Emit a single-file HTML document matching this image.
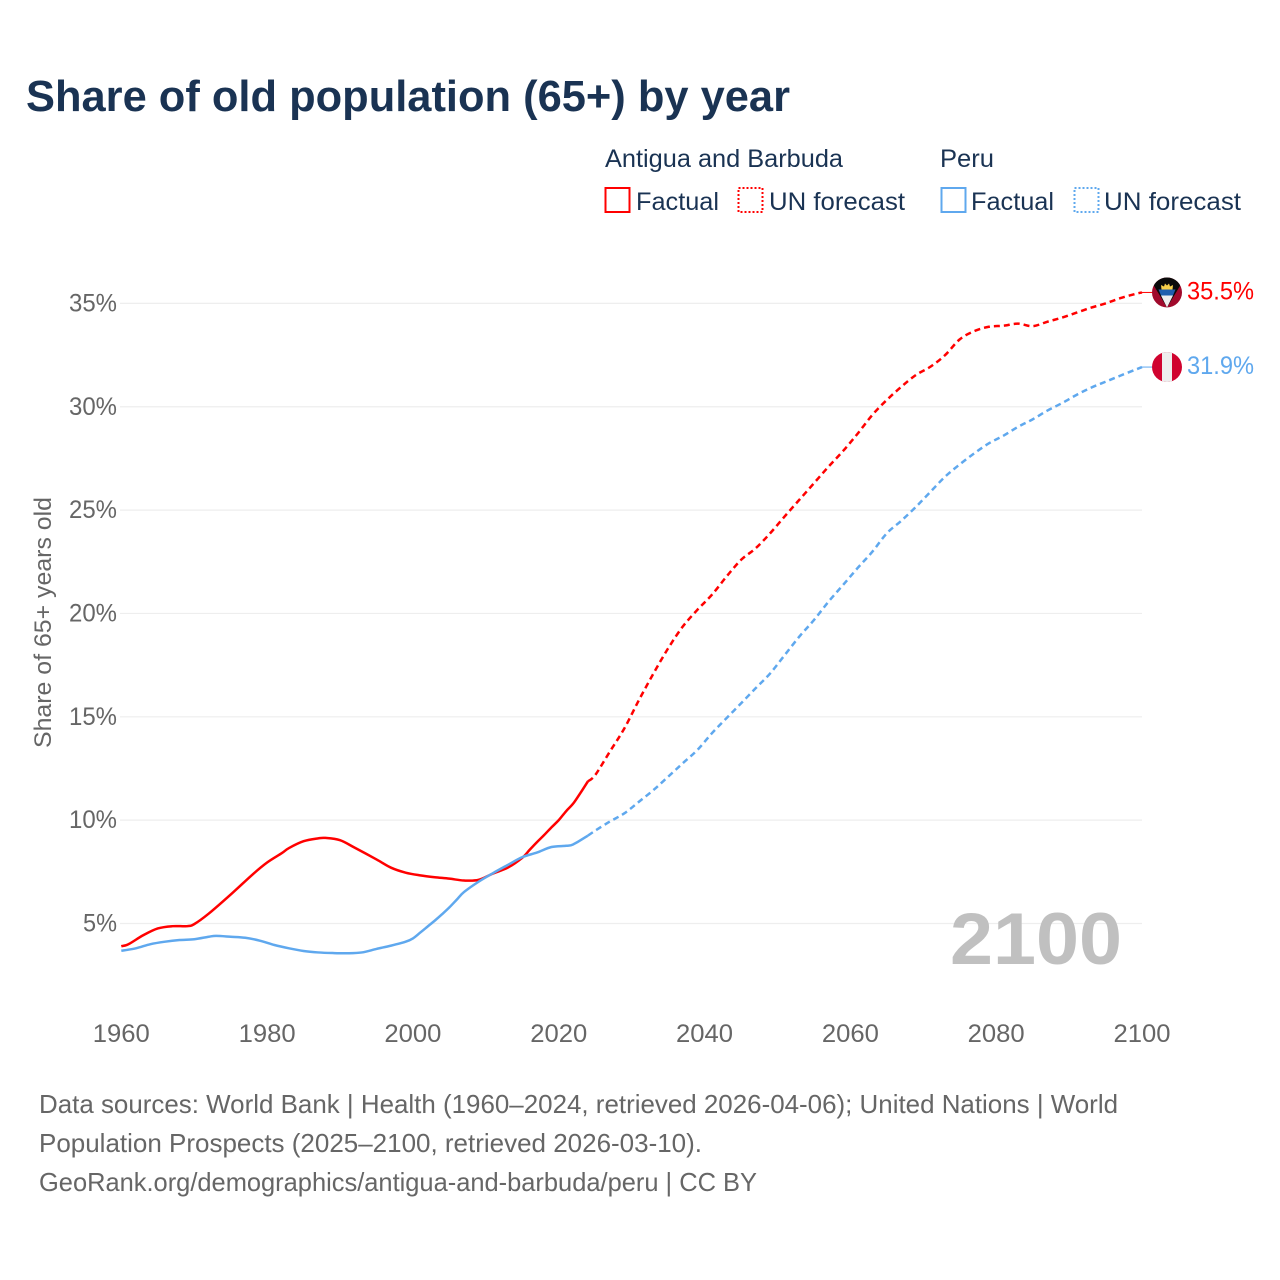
<!DOCTYPE html>
<html lang="en">
<head>
<meta charset="utf-8">
<title>Share of old population (65+) by year</title>
<style>
html,body{margin:0;padding:0;background:#fff;}
svg{display:block;font-family:"Liberation Sans",sans-serif;}
</style>
</head>
<body>
<svg id="chart" xmlns="http://www.w3.org/2000/svg" width="1280" height="1280" viewBox="0 0 1280 1280">
  <defs>
    <clipPath id="flag-clip"><circle cx="0" cy="0" r="15"/></clipPath>
  </defs>
  <rect x="0" y="0" width="1280" height="1280" fill="#ffffff"/>

  <text x="26" y="111" font-size="44" font-weight="700" fill="#1a3353" textLength="764" lengthAdjust="spacingAndGlyphs">Share of old population (65+) by year</text>

  <g>
    <text x="605" y="167" font-size="25" fill="#1a3353" textLength="238" lengthAdjust="spacingAndGlyphs">Antigua and Barbuda</text>
    <text x="940" y="167" font-size="25" fill="#1a3353" textLength="54" lengthAdjust="spacingAndGlyphs">Peru</text>

    <rect x="605.5" y="188" width="24" height="24" fill="none" stroke="#ff0000" stroke-width="2"/>
    <text x="636" y="210" font-size="25" fill="#1a3353" textLength="83" lengthAdjust="spacingAndGlyphs">Factual</text>
    <rect x="738.5" y="188" width="24" height="24" fill="none" stroke="#ff0000" stroke-width="2" stroke-dasharray="2 2"/>
    <text x="769" y="210" font-size="25" fill="#1a3353" textLength="136" lengthAdjust="spacingAndGlyphs">UN forecast</text>

    <rect x="941.5" y="188" width="24" height="24" fill="none" stroke="#5fa8ee" stroke-width="2"/>
    <text x="971" y="210" font-size="25" fill="#1a3353" textLength="83" lengthAdjust="spacingAndGlyphs">Factual</text>
    <rect x="1074.5" y="188" width="24" height="24" fill="none" stroke="#5fa8ee" stroke-width="2" stroke-dasharray="2 2"/>
    <text x="1104" y="210" font-size="25" fill="#1a3353" textLength="137" lengthAdjust="spacingAndGlyphs">UN forecast</text>
  </g>

  <text transform="translate(51,748) rotate(-90)" font-size="24" fill="#666666" textLength="251" lengthAdjust="spacingAndGlyphs">Share of 65+ years old</text>

  <g id="grid"></g>
  <g id="y-ticks"></g>
  <g id="x-ticks"></g>

  <text x="1122" y="964" text-anchor="end" font-size="73" font-weight="700" fill="#c0c0c0" textLength="172" lengthAdjust="spacingAndGlyphs">2100</text>

  <g id="series"></g>

  <g id="flag-antigua">
    <g clip-path="url(#flag-clip)">
      <rect x="-15" y="-15" width="30" height="30" fill="#a00a2c"/>
      <polygon points="-15,-15 15,-15 15,-10 0,15 -15,-10" fill="#0a0a0a"/>
      <polygon points="-8.5,-3 8.5,-3 6,3 -6,3" fill="#1f5fae"/>
      <polygon points="-6,3 6,3 0,15" fill="#eeeeee"/>
      <polygon points="-5.5,-3 -6,-7.5 -3,-6 -2,-9 0,-7 2,-9 3,-6 6,-7.5 5.5,-3" fill="#f6cf4a"/>
    </g>
  </g>
  <g id="flag-peru">
    <g clip-path="url(#flag-clip)">
      <rect x="-15" y="-15" width="30" height="30" fill="#d0032f"/>
      <rect x="-5" y="-15" width="10" height="30" fill="#eeeeee"/>
    </g>
  </g>

  <text id="value-antigua" x="1187" font-size="25" fill="#ff0000" textLength="67" lengthAdjust="spacingAndGlyphs"></text>
  <text id="value-peru" x="1187" font-size="25" fill="#5fa8ee" textLength="67" lengthAdjust="spacingAndGlyphs"></text>

  <g fill="#666666" font-size="26">
    <text x="39" y="1113" textLength="1079" lengthAdjust="spacingAndGlyphs">Data sources: World Bank | Health (1960–2024, retrieved 2026-04-06); United Nations | World</text>
    <text x="39" y="1152" textLength="663" lengthAdjust="spacingAndGlyphs">Population Prospects (2025–2100, retrieved 2026-03-10).</text>
    <text x="39" y="1191" textLength="718" lengthAdjust="spacingAndGlyphs">GeoRank.org/demographics/antigua-and-barbuda/peru | CC BY</text>
  </g>
</svg>
<script>
const yTickValues = [5, 10, 15, 20, 25, 30, 35];
const xTickValues = [1960, 1980, 2000, 2020, 2040, 2060, 2080, 2100];

const antiguaFactualYears = [1960,1961,1963,1965,1967,1969,1970,1972,1975,1978,1980,1982,1983,1985,1987,1988,1990,1992,1995,1997,1999,2001,2003,2005,2007,2009,2011,2013,2015,2016,2017,2018,2019,2020,2021,2022,2023,2024];
const antiguaFactualValues = [3.9,4.0,4.43,4.76,4.87,4.87,4.97,5.48,6.4,7.37,7.95,8.4,8.65,8.98,9.12,9.14,9.03,8.67,8.1,7.7,7.46,7.33,7.24,7.17,7.08,7.11,7.42,7.7,8.18,8.56,8.93,9.28,9.65,10.0,10.43,10.81,11.33,11.88];
const antiguaForecastYears = [2024,2025,2027,2029,2031,2033,2035,2037,2039,2041,2043,2045,2047,2049,2051,2053,2055,2057,2059,2061,2063,2065,2067,2069,2071,2073,2075,2077,2079,2081,2083,2085,2087,2089,2091,2093,2095,2097,2099,2100];
const antiguaForecastValues = [11.88,12.18,13.31,14.44,15.81,17.1,18.31,19.36,20.17,20.9,21.78,22.59,23.15,23.88,24.7,25.5,26.3,27.1,27.86,28.7,29.6,30.33,30.97,31.54,31.94,32.5,33.26,33.66,33.87,33.92,34.02,33.9,34.11,34.31,34.55,34.79,35.0,35.25,35.45,35.53];

const peruFactualYears = [1960,1962,1964,1966,1968,1970,1972,1973,1975,1977,1979,1981,1983,1985,1987,1989,1991,1993,1995,1997,1999,2000,2001,2002,2003,2004,2005,2006,2007,2009,2011,2013,2015,2017,2019,2021,2022,2024];
const peruFactualValues = [3.68,3.8,4.0,4.12,4.2,4.24,4.36,4.4,4.36,4.31,4.17,3.96,3.8,3.67,3.6,3.57,3.56,3.6,3.77,3.93,4.12,4.28,4.56,4.85,5.14,5.45,5.78,6.15,6.52,7.02,7.44,7.83,8.21,8.43,8.7,8.76,8.83,9.25];
const peruForecastYears = [2024,2025,2027,2029,2031,2033,2035,2037,2039,2041,2043,2045,2047,2049,2051,2053,2055,2057,2059,2061,2063,2065,2067,2069,2071,2073,2075,2077,2079,2081,2083,2085,2087,2089,2091,2093,2095,2097,2099,2100];
const peruForecastValues = [9.25,9.49,9.93,10.33,10.89,11.46,12.1,12.75,13.39,14.2,14.93,15.65,16.38,17.1,17.99,18.88,19.68,20.57,21.38,22.2,22.98,23.88,24.49,25.16,25.89,26.62,27.21,27.75,28.23,28.6,29.03,29.39,29.81,30.17,30.57,30.92,31.21,31.5,31.78,31.92];

const NS = 'http://www.w3.org/2000/svg';
const xScale = function (year) { return 121.3 + (year - 1960) * (1142 - 121.3) / 140; };
const yScale = function (pct) { return 923.5 - (pct - 5) * 20.67; };

function smoothPath(xs, ys) {
  const pts = xs.map(function (x, i) { return [xScale(x), yScale(ys[i])]; });
  let d = 'M' + pts[0][0].toFixed(2) + ' ' + pts[0][1].toFixed(2);
  for (let i = 0; i < pts.length - 1; i++) {
    const p0 = pts[Math.max(i - 1, 0)];
    const p1 = pts[i];
    const p2 = pts[i + 1];
    const p3 = pts[Math.min(i + 2, pts.length - 1)];
    const c1x = p1[0] + (p2[0] - p0[0]) / 6;
    const c1y = p1[1] + (p2[1] - p0[1]) / 6;
    const c2x = p2[0] - (p3[0] - p1[0]) / 6;
    const c2y = p2[1] - (p3[1] - p1[1]) / 6;
    d += 'C' + c1x.toFixed(2) + ' ' + c1y.toFixed(2) + ' ' + c2x.toFixed(2) + ' ' + c2y.toFixed(2) + ' ' + p2[0].toFixed(2) + ' ' + p2[1].toFixed(2);
  }
  return d;
}

const gridGroup = document.getElementById('grid');
const yTickGroup = document.getElementById('y-ticks');
const xTickGroup = document.getElementById('x-ticks');
const seriesGroup = document.getElementById('series');

yTickValues.forEach(function (v) {
  const line = document.createElementNS(NS, 'line');
  line.setAttribute('x1', 120);
  line.setAttribute('x2', 1142);
  line.setAttribute('y1', yScale(v));
  line.setAttribute('y2', yScale(v));
  line.setAttribute('stroke', '#eeeeee');
  line.setAttribute('stroke-width', 1.2);
  
  
  gridGroup.appendChild(line);

  const label = document.createElementNS(NS, 'text');
  label.setAttribute('x', 117);
  label.setAttribute('y', yScale(v) + 8);
  label.setAttribute('text-anchor', 'end');
  label.setAttribute('font-size', 25);
  label.setAttribute('fill', '#666666');
  label.setAttribute('textLength', String(v).length === 1 ? 34 : 48);
  label.setAttribute('lengthAdjust', 'spacingAndGlyphs');
  label.textContent = v + '%';
  
  
  yTickGroup.appendChild(label);
});

xTickValues.forEach(function (year) {
  const label = document.createElementNS(NS, 'text');
  label.setAttribute('x', xScale(year));
  label.setAttribute('y', 1042);
  label.setAttribute('text-anchor', 'middle');
  label.setAttribute('font-size', 25);
  label.setAttribute('fill', '#666666');
  label.setAttribute('textLength', 57);
  label.setAttribute('lengthAdjust', 'spacingAndGlyphs');
  label.textContent = String(year);
  
  
  xTickGroup.appendChild(label);
});

function addLine(xs, ys, color, dashed, name) {
  const path = document.createElementNS(NS, 'path');
  path.setAttribute('d', smoothPath(xs, ys));
  path.setAttribute('fill', 'none');
  path.setAttribute('stroke', color);
  path.setAttribute('stroke-width', 2.5);
  path.setAttribute('stroke-linejoin', 'round');
  if (dashed) { path.setAttribute('stroke-dasharray', '6 4'); }
  
  
  seriesGroup.appendChild(path);
}

function addEnd(values, color, flagId, valueId, connectorName) {
  const last = values[values.length - 1];
  const y = yScale(last);
  const connector = document.createElementNS(NS, 'line');
  connector.setAttribute('x1', xScale(2100));
  connector.setAttribute('x2', 1153);
  connector.setAttribute('y1', y);
  connector.setAttribute('y2', y);
  connector.setAttribute('stroke', color);
  connector.setAttribute('stroke-width', 1);
  
  
  seriesGroup.appendChild(connector);
  document.getElementById(flagId).setAttribute('transform', 'translate(1167,' + y.toFixed(2) + ')');
  const text = document.getElementById(valueId);
  text.setAttribute('y', (y + 7).toFixed(2));
  text.textContent = last.toFixed(1) + '%';
}

addLine(antiguaFactualYears, antiguaFactualValues, '#ff0000', false, 'line-antigua-factual');
addLine(antiguaForecastYears, antiguaForecastValues, '#ff0000', true, 'line-antigua-forecast');
addLine(peruFactualYears, peruFactualValues, '#5fa8ee', false, 'line-peru-factual');
addLine(peruForecastYears, peruForecastValues, '#5fa8ee', true, 'line-peru-forecast');
addEnd(antiguaForecastValues, '#ff0000', 'flag-antigua', 'value-antigua', 'connector-antigua');
addEnd(peruForecastValues, '#5fa8ee', 'flag-peru', 'value-peru', 'connector-peru');
</script>
</body>
</html>
